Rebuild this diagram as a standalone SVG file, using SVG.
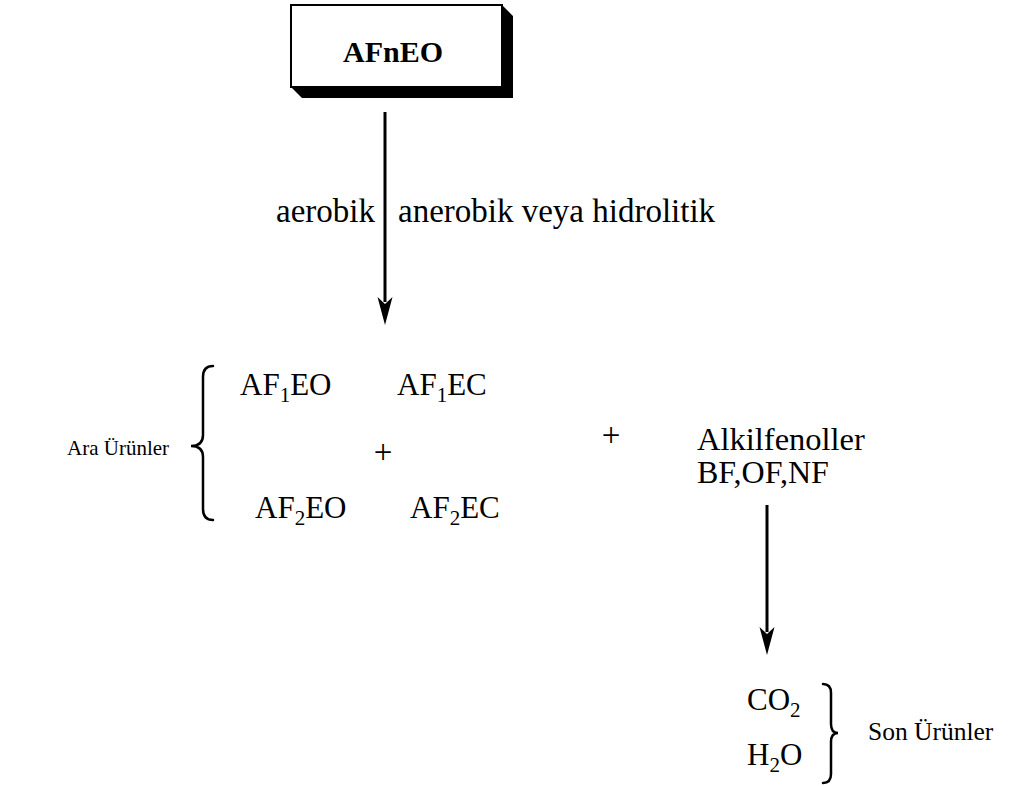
<svg xmlns="http://www.w3.org/2000/svg" width="1010" height="787" viewBox="0 0 1010 787">
  <style>
    text { font-family: "Liberation Serif", "Times New Roman", serif; fill: #000; }
    .t { font-size: 31px; }
    .lbl { font-size: 33px; }
    .s { font-size: 21px; }
    .ln { stroke: #000; stroke-width: 3; fill: none; }
    .hd { fill: #000; }
    .br { stroke: #000; stroke-width: 2.5; fill: none; stroke-linecap: round; }
  </style>
  <rect width="1010" height="787" fill="#fff"/>

  <!-- start compound box with drop shadow -->
  <g id="afneo">
    <polygon points="502,5 513,16 513,98 302,98 291,87 502,87" fill="#000"/>
    <rect x="291" y="5" width="211" height="82" fill="#fff" stroke="#000" stroke-width="2"/>
    <text x="393" y="62" text-anchor="middle" font-weight="bold" font-size="30">AFnEO</text>
  </g>

  <!-- connectors -->
  <g id="connectors">
    <line class="ln" x1="385" y1="112" x2="385" y2="302"/>
    <polygon class="hd" points="377.5,297 385,304 392.5,297 385,325"/>
    <line class="ln" x1="767" y1="505" x2="767" y2="632"/>
    <polygon class="hd" points="759.5,627 767,634 774.5,627 767,655"/>
  </g>

  <g id="path-labels">
    <text class="lbl" x="375" y="222" text-anchor="end">aerobik</text>
    <text class="lbl" x="398" y="222">anerobik veya hidrolitik</text>
  </g>

  <!-- intermediate products -->
  <g id="intermediates">
    <text x="67" y="455" font-size="21">Ara Ürünler</text>
    <path class="br" d="M213 366 Q203 366 203 377 L203 435 Q203 446 191 446 Q203 446 203 457 L203 509 Q203 520 213 520"/>
    <text class="t" x="240" y="395">AF<tspan class="s" dy="7">1</tspan><tspan dy="-7">EO</tspan></text>
    <text class="t" x="397" y="395">AF<tspan class="s" dy="7">1</tspan><tspan dy="-7">EC</tspan></text>
    <text class="lbl" x="383" y="463" text-anchor="middle">+</text>
    <text class="t" x="255" y="518">AF<tspan class="s" dy="7">2</tspan><tspan dy="-7">EO</tspan></text>
    <text class="t" x="410" y="518">AF<tspan class="s" dy="7">2</tspan><tspan dy="-7">EC</tspan></text>
  </g>

  <g id="plus">
    <text class="lbl" x="611" y="446" text-anchor="middle">+</text>
  </g>

  <g id="alkylphenols">
    <text x="697" y="450" font-size="32.5">Alkilfenoller</text>
    <text x="697" y="483" font-size="32">BF,OF,NF</text>
  </g>

  <!-- end products -->
  <g id="end-products">
    <text class="t" x="747" y="710">CO<tspan class="s" dy="7">2</tspan></text>
    <text class="t" x="747" y="765">H<tspan class="s" dy="7">2</tspan><tspan dy="-7">O</tspan></text>
    <path class="br" d="M823 684 Q831 684 831 693 L831 724 Q831 733 838 733 Q831 733 831 742 L831 774 Q831 783 823 783"/>
    <text x="868" y="740" font-size="25.5">Son Ürünler</text>
  </g>
</svg>
